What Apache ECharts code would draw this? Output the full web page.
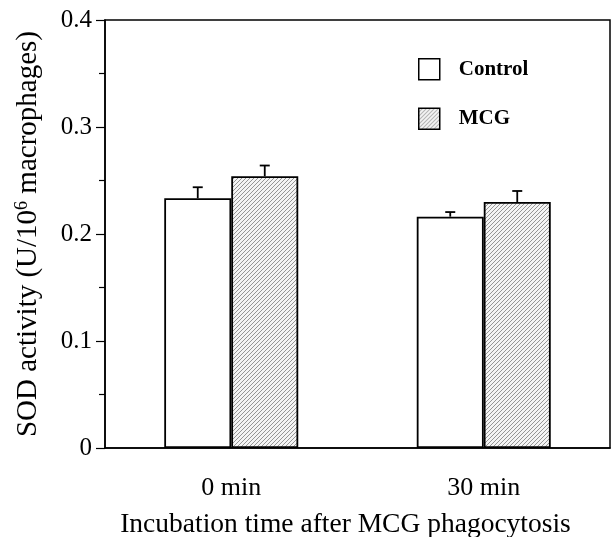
<!DOCTYPE html>
<html>
<head>
<meta charset="utf-8">
<script src="https://cdn.jsdelivr.net/npm/echarts@6/dist/echarts.min.js"></script>
<style>html,body{margin:0;padding:0;background:#fff;}#c{width:614px;height:537px;}</style>
</head>
<body>
<div id="c"></div>
<script>
const categories = ['0 min', '30 min'];
const controlValues = [0.2334, 0.2162];
const mcgValues = [0.2540, 0.2299];
const controlErr = [0.0103, 0.0043];
const mcgErr = [0.0100, 0.0103];
const yTicks = [0, 0.1, 0.2, 0.3, 0.4];

// hatched pattern for MCG bars
const pc = document.createElement('canvas');
pc.width = 8; pc.height = 8;
const g = pc.getContext('2d');
g.fillStyle = '#f4f4f4';
g.fillRect(0, 0, 8, 8);
g.strokeStyle = '#8a8a8a';
g.lineWidth = 0.9;
for (let k = -8; k <= 16; k += 4) {
  g.beginPath();
  g.moveTo(k, 8);
  g.lineTo(k + 8, 0);
  g.stroke();
}
const hatch = { image: pc, repeat: 'repeat' };

const font = 'Liberation Serif';
const BW = 67;

function errSeries(vals, errs, offset) {
  return {
    type: 'custom',
    z: 5,
    silent: true,
    data: vals.map((v, i) => [i, v, v + errs[i]]),
    renderItem: function (params, api) {
      const x = api.value(0);
      const c0 = api.coord([x, api.value(1)]);
      const c1 = api.coord([x, api.value(2)]);
      const px = c0[0] + offset;
      const st = { stroke: '#000', lineWidth: 1.8 };
      return {
        type: 'group',
        children: [
          { type: 'line', shape: { x1: px, y1: c0[1], x2: px, y2: c1[1] }, style: st },
          { type: 'line', shape: { x1: px - 5, y1: c1[1], x2: px + 5, y2: c1[1] }, style: st }
        ]
      };
    }
  };
}

const chart = echarts.init(document.getElementById('c'));
chart.setOption({
  animation: false,
  backgroundColor: '#fff',
  grid: {
    left: 105, right: 4, top: 20, bottom: 89,
    outerBoundsMode: 'none', containLabel: false,
    show: true, borderColor: '#000', borderWidth: 1.5, backgroundColor: 'transparent'
  },
  legend: {
    orient: 'vertical',
    left: 413, top: 53,
    itemWidth: 21, itemHeight: 21, itemGap: 27,
    icon: 'rect',
    data: ['Control', 'MCG'],
    textStyle: { fontFamily: font, fontWeight: 'bold', fontSize: 21, color: '#000', padding: [0, 0, 0, 14] },
    itemStyle: { borderColor: '#000', borderWidth: 1.5 }
  },
  xAxis: {
    type: 'category',
    data: categories,
    axisLine: { lineStyle: { color: '#000', width: 1.5 } },
    axisTick: { show: false },
    axisLabel: { fontFamily: font, fontSize: 26, color: '#000', margin: 27 },
    name: 'Incubation time after MCG phagocytosis',
    nameLocation: 'middle',
    nameGap: 63,
    nameTextStyle: { fontFamily: font, fontSize: 27.5, color: '#000', padding: [0, 24, 0, 0] }
  },
  yAxis: {
    type: 'value',
    min: 0, max: 0.4, interval: 0.1,
    axisLine: { show: true, lineStyle: { color: '#000', width: 1.5 } },
    axisTick: { show: true, length: 9, lineStyle: { color: '#000', width: 1.2 } },
    minorTick: { show: true, splitNumber: 2, length: 6, lineStyle: { color: '#000', width: 1.2 } },
    splitLine: { show: false },
    axisLabel: {
      fontFamily: font, fontSize: 25, color: '#000', margin: 13,
      formatter: function (v) { const t = yTicks.find(x => Math.abs(x - v) < 1e-9); return t === 0 ? '0' : String(t); }
    },
    name: 'SOD activity (U/10{sup|6} macrophages)',
    nameLocation: 'middle',
    nameGap: 62,
    nameTextStyle: {
      fontFamily: font, fontSize: 29, color: '#000',
      rich: { sup: { fontFamily: font, fontSize: 18, color: '#000', verticalAlign: 'top', padding: [0, 0, 12, 0] } }
    }
  },
  series: [
    {
      name: 'Control', type: 'bar', data: controlValues, barWidth: BW, barGap: '0%',
      itemStyle: { color: '#fff', borderColor: '#000', borderWidth: 1.8 }
    },
    {
      name: 'MCG', type: 'bar', data: mcgValues, barWidth: BW, barGap: '0%',
      itemStyle: { color: hatch, borderColor: '#000', borderWidth: 1.8 }
    },
    errSeries(controlValues, controlErr, -BW / 2),
    errSeries(mcgValues, mcgErr, BW / 2)
  ]
});
</script>
</body>
</html>
